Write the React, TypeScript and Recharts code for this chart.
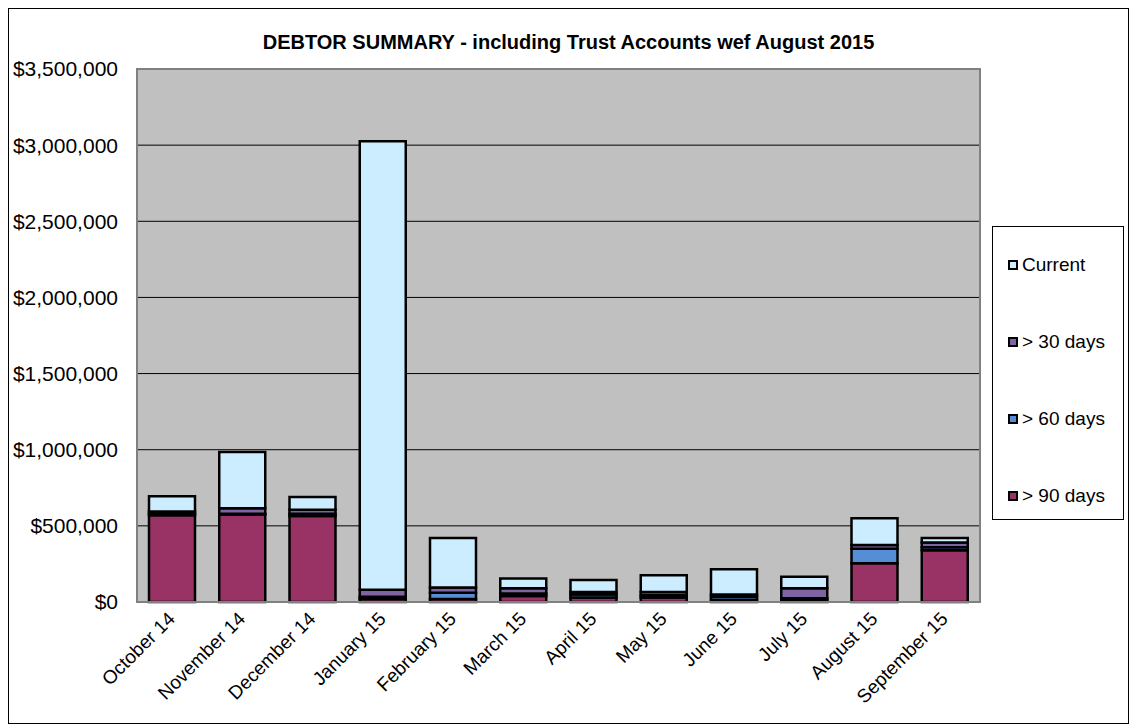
import { BarChart, Bar, XAxis, YAxis, CartesianGrid, Legend, ReferenceArea } from 'recharts';

const months = [
  'October 14', 'November 14', 'December 14', 'January 15', 'February 15', 'March 15',
  'April 15', 'May 15', 'June 15', 'July 15', 'August 15', 'September 15',
];
const over90 = [570000, 575000, 565000, 20000, 20000, 40000, 30000, 30000, 15000, 15000, 255000, 340000];
const over60 = [10000, 5000, 15000, 15000, 40000, 15000, 20000, 15000, 20000, 10000, 95000, 20000];
const over30 = [15000, 35000, 25000, 45000, 35000, 35000, 15000, 20000, 15000, 65000, 25000, 30000];
const current = [100000, 370000, 85000, 2945000, 325000, 65000, 80000, 110000, 165000, 75000, 175000, 30000];
const yTicks = [0, 500000, 1000000, 1500000, 2000000, 2500000, 3000000, 3500000];

// stack order bottom -> top
const series = [
  { key: 'over90', name: '> 90 days', color: '#993366' },
  { key: 'over60', name: '> 60 days', color: '#558ED5' },
  { key: 'over30', name: '> 30 days', color: '#8064A2' },
  { key: 'current', name: 'Current', color: '#CCECFF' },
];

const data = months.map((m, i) => ({
  name: m,
  over90: over90[i],
  over60: over60[i],
  over30: over30[i],
  current: current[i],
}));

const font = '"Liberation Sans", Arial, sans-serif';

const money = (v: number) => '$' + v.toLocaleString('en-US');

const XTick = ({ x, y, payload }: any) => (
  <g transform={`translate(${x + 4},${y + 16})`}>
    <text transform="rotate(-45)" textAnchor="end" fontSize={19} fontFamily={font} fill="#000">
      {payload.value}
    </text>
  </g>
);

const renderLegend = () => (
  <div
    style={{
      width: 132,
      height: 294,
      boxSizing: 'border-box',
      border: '1px solid #000',
      background: '#fff',
      paddingTop: 27,
      fontFamily: font,
      fontSize: 19,
      textAlign: 'left',
    }}
  >
    {[...series].reverse().map((s) => (
      <div key={s.key} style={{ height: 77, display: 'flex', alignItems: 'flex-start', paddingLeft: 15 }}>
        <div style={{ display: 'flex', alignItems: 'center', height: 22 }}>
          <span
            style={{
              display: 'inline-block',
              width: 6,
              height: 6,
              border: '2px solid #000',
              background: s.color,
              marginRight: 4,
            }}
          />
          <span style={{ lineHeight: '22px' }}>{s.name}</span>
        </div>
      </div>
    ))}
  </div>
);

export default function App() {
  return (
    <div
      style={{
        position: 'relative',
        width: 1121,
        height: 716,
        border: '1px solid #000',
        boxSizing: 'border-box',
        background: '#fff',
      }}
    >
      <div
        style={{
          position: 'absolute',
          top: 22,
          left: 0,
          width: '100%',
          textAlign: 'center',
          fontFamily: font,
          fontWeight: 'bold',
          fontSize: 20,
        }}
      >
        DEBTOR SUMMARY - including Trust Accounts wef August 2015
      </div>
      <BarChart
        width={1119}
        height={714}
        data={data}
        margin={{ top: 60, right: 148, left: 0, bottom: 8 }}
        barSize={46}
      >
        <CartesianGrid vertical={false} stroke="#000" fill="#C0C0C0" fillOpacity={1} />
        <XAxis
          dataKey="name"
          interval={0}
          height={113}
          tick={<XTick />}
          tickLine={false}
          tickSize={0}
          axisLine={{ stroke: '#808080', strokeWidth: 2 }}
        />
        <YAxis
          width={128}
          domain={[0, 3500000]}
          ticks={yTicks}
          tickFormatter={money}
          tickLine={false}
          tickSize={0}
          tickMargin={19}
          axisLine={{ stroke: '#808080', strokeWidth: 2 }}
          tick={{ fontSize: 21, fontFamily: font, fill: '#000' }}
          interval={0}
        />
        <ReferenceArea y1={0} y2={3500000} fill="none" stroke="#808080" strokeWidth={2} />
        {series.map((s) => (
          <Bar
            key={s.key}
            dataKey={s.key}
            name={s.name}
            stackId="a"
            fill={s.color}
            stroke="#000"
            strokeWidth={2.5}
            isAnimationActive={false}
          />
        ))}
        <Legend
          layout="horizontal"
          verticalAlign="middle"
          align="center"
          content={renderLegend}
          wrapperStyle={{ position: 'absolute', left: 983, top: 217, width: 132, height: 294 }}
        />
      </BarChart>
    </div>
  );
}
